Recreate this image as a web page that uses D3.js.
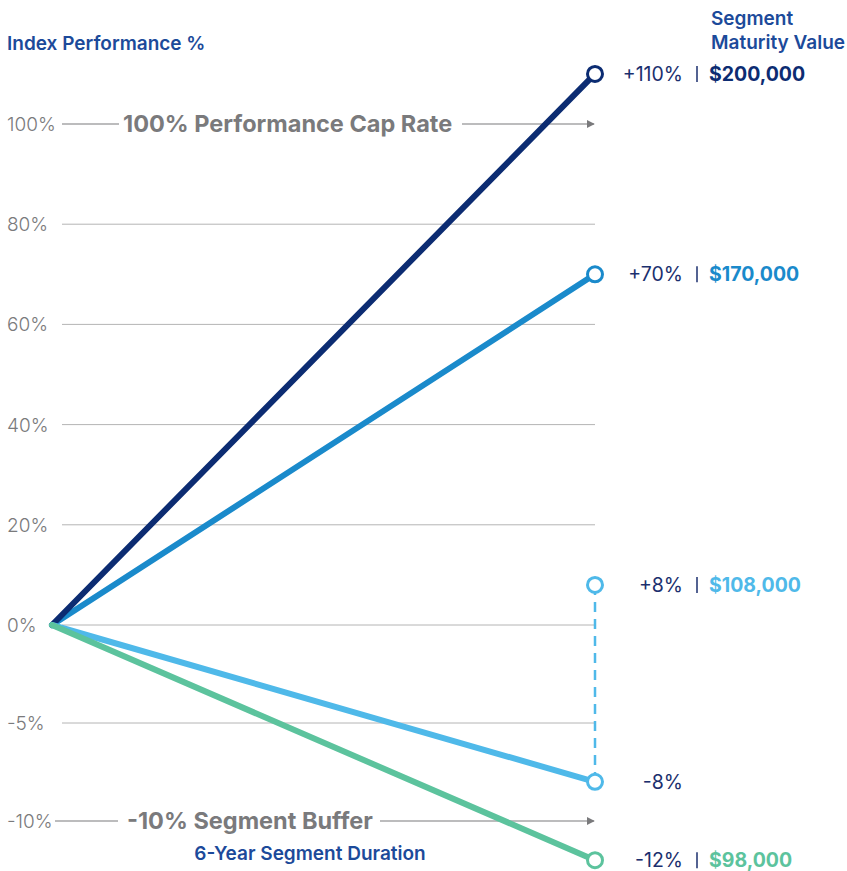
<!DOCTYPE html>
<html>
<head>
<meta charset="utf-8">
<script src="https://cdn.jsdelivr.net/npm/d3@7"></script>
<style>
  body { margin: 0; background: #fff; }
  svg { font-family: Inter, "Noto Sans", sans-serif; }
</style>
</head>
<body>
<div id="chart"></div>
<script>
// segment data
var years = [0, 6];
var seriesNames = ['cap', 'growth', 'buffered', 'loss'];
var seriesColors = ['#0c2c72', '#1a8acb', '#4fb9e9', '#5cc39d'];
var indexReturns = [110, 70, -8, -12];
var creditedReturns = ['+110%', '+70%', '+8%', '-12%'];
var creditedLevels = [110, 70, 8, -12];
var maturityValues = ['$200,000', '$170,000', '$108,000', '$98,000'];
var tickValues = [100, 80, 60, 40, 20, 0, -5, -10];
var gridValues = [80, 60, 40, 20, 0, -5];

var width = 847, height = 871;
var navy = '#1c4a9a';
var grey = '#7a7a7c';
var ink = '#1b2f6e';

var svg = d3.select('#chart').append('svg')
  .attr('width', width)
  .attr('height', height);

// y is split: the negative part is stretched
var y = d3.scaleLinear().domain([-10, 0, 100]).range([821, 625, 124]);
var x = d3.scaleLinear().domain(years).range([52, 595]);

svg.append('defs').append('marker')
  .attr('id', 'arrow')
  .attr('viewBox', '0 0 10 10')
  .attr('refX', 9).attr('refY', 5)
  .attr('markerWidth', 8).attr('markerHeight', 8)
  .attr('markerUnits', 'userSpaceOnUse')
  .attr('orient', 'auto')
  .append('path').attr('d', 'M0,0L10,5L0,10z').attr('fill', grey);

// grid
svg.selectAll('.grid').data(gridValues).enter().append('line')
  .attr('class', 'grid')
  .attr('x1', 62).attr('x2', x(6))
  .attr('y1', function(d) { return y(d) }).attr('y2', function(d) { return y(d) })
  .attr('stroke', '#b4b4b4').attr('stroke-width', 1);

svg.selectAll('.tick').data(tickValues).enter().append('text')
  .attr('x', 7)
  .attr('y', function(d) { return y(d) + 7 })
  .attr('font-size', 19)
  .attr('font-weight', 300)
  .attr('fill', grey)
  .text(function(d) { return d + '%' });

// cap + buffer annotations
var notes = [
  { v: 100, label: '100% Performance Cap Rate', a: [62, 119], tx: 123, b: [462, 594] },
  { v: -10, label: '-10% Segment Buffer', a: [55, 118], tx: 127, b: [380, 594] }
];
notes.forEach(function(n) {
  svg.append('line').attr('x1', n.a[0]).attr('x2', n.a[1])
    .attr('y1', y(n.v)).attr('y2', y(n.v)).attr('stroke', grey).attr('stroke-width', 1.2);
  svg.append('line').attr('x1', n.b[0]).attr('x2', n.b[1])
    .attr('y1', y(n.v)).attr('y2', y(n.v)).attr('stroke', grey).attr('stroke-width', 1.2)
    .attr('marker-end', 'url(#arrow)');
  svg.append('text').attr('x', n.tx).attr('y', y(n.v) + 8)
    .attr('font-size', 23.5).attr('font-weight', 700).attr('fill', grey)
    .text(n.label);
});

// dashed link between -8% and +8%
svg.append('line')
  .attr('x1', x(6)).attr('x2', x(6))
  .attr('y1', y(creditedLevels[2])).attr('y2', y(indexReturns[2]))
  .attr('stroke', seriesColors[2]).attr('stroke-width', 2.5)
  .attr('stroke-dasharray', '10,7');

// segment lines
var order = [1, 0, 2, 3];
svg.selectAll('.seg').data(order).enter().append('line')
  .attr('x1', x(0)).attr('y1', y(0))
  .attr('x2', x(6)).attr('y2', function(i) { return y(indexReturns[i]) })
  .attr('stroke', function(i) { return seriesColors[i] })
  .attr('stroke-width', 6)
  .attr('stroke-linecap', 'round');

// end points
var points = seriesNames.map(function(s, i) { return { v: indexReturns[i], c: seriesColors[i] } });
points.push({ v: creditedLevels[2], c: seriesColors[2] });
svg.selectAll('.pt').data(points).enter().append('circle')
  .attr('cx', x(6)).attr('cy', function(d) { return y(d.v) })
  .attr('r', 7.5)
  .attr('fill', '#fff')
  .attr('stroke', function(d) { return d.c })
  .attr('stroke-width', 3);

// right labels
var labels = seriesNames.map(function(s, i) {
  return { v: creditedLevels[i], pct: creditedReturns[i], val: maturityValues[i], c: seriesColors[i] };
});
labels.push({ v: indexReturns[2], pct: '-8%', val: null, c: seriesColors[2] });

var lab = svg.selectAll('.lab').data(labels).enter().append('g')
  .attr('transform', function(d) { return 'translate(0,' + y(d.v) + ')' });
lab.append('text').attr('x', 683).attr('y', 7).attr('text-anchor', 'end')
  .attr('font-size', 19.5).attr('fill', ink)
  .text(function(d) { return d.pct });
lab.filter(function(d) { return d.val }).append('line')
  .attr('x1', 697).attr('x2', 697).attr('y1', -8).attr('y2', 8)
  .attr('stroke', ink).attr('stroke-width', 1.5);
lab.filter(function(d) { return d.val }).append('text').attr('x', 709).attr('y', 7)
  .attr('font-size', 19.5).attr('font-weight', 700)
  .attr('fill', function(d) { return d.c })
  .text(function(d) { return d.val });

// titles
svg.append('text').attr('x', 7).attr('y', 50)
  .attr('font-size', 19).attr('font-weight', 600).attr('fill', navy)
  .text('Index Performance %');
svg.append('text').attr('x', 711).attr('y', 25)
  .attr('font-size', 19).attr('font-weight', 600).attr('fill', navy)
  .text('Segment');
svg.append('text').attr('x', 711).attr('y', 49)
  .attr('font-size', 19).attr('font-weight', 600).attr('fill', navy)
  .text('Maturity Value');
svg.append('text').attr('x', 310).attr('y', 860).attr('text-anchor', 'middle')
  .attr('font-size', 19).attr('font-weight', 600).attr('fill', navy)
  .text('6-Year Segment Duration');
</script>
</body>
</html>
